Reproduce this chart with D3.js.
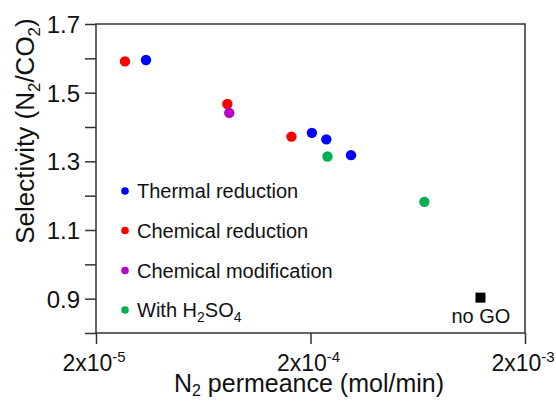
<!DOCTYPE html>
<html>
<head>
<meta charset="utf-8">
<script src="https://cdn.jsdelivr.net/npm/d3@7"></script>
<style>
  body { margin: 0; background: white; }
  text { font-family: "Liberation Sans", Arial, sans-serif; fill: #111; }
</style>
</head>
<body>
<div id="chart"></div>
<script>
let width = 556;
let height = 401;

let margin = {
	top: 24,
	right: 31,
	bottom: 68,
	left: 96
};

// data
let thermalX = [3.42e-5, 2.03e-4, 2.37e-4, 3.09e-4];
let thermalY = [1.595, 1.383, 1.364, 1.318];
let chemRedX = [2.73e-5, 8.19e-5, 1.63e-4];
let chemRedY = [1.591, 1.467, 1.372];
let chemModX = [8.36e-5];
let chemModY = [1.441];
let sulfX = [2.40e-4, 6.79e-4];
let sulfY = [1.314, 1.182];
let noGoX = [1.24e-3];
let noGoY = [0.903];

let seriesNames = ["Thermal reduction", "Chemical reduction", "Chemical modification", "With H2SO4"];
let seriesColors = ["#0000ff", "#ff0000", "#b800c8", "#00b050"];

let xTicks = [2e-5, 2e-4, 2e-3];
let xTickExp = ["-5", "-4", "-3"];
let yTicks = [0.8, 0.9, 1.0, 1.1, 1.2, 1.3, 1.4, 1.5, 1.6, 1.7];
let yLabels = [0.9, 1.1, 1.3, 1.5, 1.7];

let series = [
	{x: thermalX, y: thermalY},
	{x: chemRedX, y: chemRedY},
	{x: chemModX, y: chemModY},
	{x: sulfX, y: sulfY}
];

let svg = d3.select("#chart")
			.append("svg")
			.attr("width", width)
			.attr("height", height);

svg.append("rect")
	.attr("width", width)
	.attr("height", height)
	.attr("fill", "white");

let xScale = d3.scaleLog()
				.domain([2e-5, 2e-3])
				.range([margin.left, width - margin.right]);

let yScale = d3.scaleLinear()
				.domain([0.8, 1.7])
				.range([height - margin.bottom, margin.top]);

let axisColor = "#333";

// frame
svg.append("rect")
	.attr("x", margin.left)
	.attr("y", margin.top)
	.attr("width", width - margin.right - margin.left)
	.attr("height", height - margin.bottom - margin.top)
	.attr("fill", "none")
	.attr("stroke", axisColor)
	.attr("stroke-width", 1.5);

// y ticks
let yAxis = d3.axisLeft(yScale)
				.tickValues(yTicks)
				.tickSize(11)
				.tickFormat(d => yLabels.some(v => Math.abs(v - d) < 1e-9) ? d3.format(".1f")(d) : "");

let gy = svg.append("g")
			.attr("transform", `translate(${margin.left},0)`)
			.call(yAxis);
gy.select(".domain").remove();
gy.selectAll("line").attr("stroke", axisColor).attr("stroke-width", 1.5);
gy.selectAll("text")
	.attr("x", -16)
	.attr("dy", "0.36em")
	.style("font-size", "24px")
	.style("font-family", "Liberation Sans, Arial, sans-serif")
	.attr("fill", "#111");

// x ticks
let xAxis = d3.axisBottom(xScale)
				.tickValues(xTicks)
				.tickSize(11)
				.tickFormat("");

let gx = svg.append("g")
			.attr("transform", `translate(0,${height - margin.bottom})`)
			.call(xAxis);
gx.select(".domain").remove();
gx.selectAll("line").attr("stroke", axisColor).attr("stroke-width", 1.5);

let xLab = svg.selectAll(".xlab")
			.data(xTicks)
			.enter()
			.append("text")
			.attr("class", "xlab")
			.attr("x", d => xScale(d) - 2)
			.attr("y", 371)
			.attr("text-anchor", "middle")
			.style("font-size", "23px");
xLab.append("tspan").text("2x10");
xLab.append("tspan")
	.attr("dy", -9)
	.style("font-size", "15px")
	.text((d, i) => xTickExp[i]);

// axis titles
let xTitle = svg.append("text")
			.attr("x", 309)
			.attr("y", 392)
			.attr("text-anchor", "middle")
			.style("font-size", "25px");
xTitle.append("tspan").text("N");
xTitle.append("tspan").attr("dy", 4).style("font-size", "16px").text("2");
xTitle.append("tspan").attr("dy", -4).text(" permeance (mol/min)");

let yTitle = svg.append("text")
			.attr("transform", "translate(34,131) rotate(-90)")
			.attr("text-anchor", "middle")
			.style("font-size", "26px");
yTitle.append("tspan").text("Selectivity (N");
yTitle.append("tspan").attr("dy", 6).style("font-size", "17px").text("2");
yTitle.append("tspan").attr("dy", -6).text("/CO");
yTitle.append("tspan").attr("dy", 6).style("font-size", "17px").text("2");
yTitle.append("tspan").attr("dy", -6).text(")");

// points
series.forEach((s, i) => {
	svg.selectAll(".pt" + i)
		.data(s.x)
		.enter()
		.append("circle")
		.attr("class", "pt" + i)
		.attr("cx", d => xScale(d))
		.attr("cy", (d, j) => yScale(s.y[j]))
		.attr("r", 5.2)
		.attr("fill", seriesColors[i]);
});

svg.selectAll(".nogo")
	.data(noGoX)
	.enter()
	.append("rect")
	.attr("class", "nogo")
	.attr("x", d => xScale(d) - 5)
	.attr("y", (d, j) => yScale(noGoY[j]) - 5)
	.attr("width", 10)
	.attr("height", 10)
	.attr("fill", "#000");

svg.append("text")
	.attr("x", xScale(noGoX[0]) + 0.5)
	.attr("y", 323)
	.attr("text-anchor", "middle")
	.style("font-size", "20px")
	.text("no GO");

// legend
let legendY = [191, 230.5, 270.5, 310];
let lg = svg.selectAll(".lg")
			.data(seriesNames)
			.enter()
			.append("g")
			.attr("class", "lg")
			.attr("transform", (d, i) => `translate(125,${legendY[i]})`);

lg.append("circle")
	.attr("r", 3.8)
	.attr("fill", (d, i) => seriesColors[i]);

lg.each(function(d, i) {
	let t = d3.select(this).append("text")
				.attr("x", 12)
				.attr("y", 7)
				.style("font-size", "20px");
	if (d === "With H2SO4") {
		t.append("tspan").text("With H");
		t.append("tspan").attr("dy", 5).style("font-size", "14px").text("2");
		t.append("tspan").attr("dy", -5).text("SO");
		t.append("tspan").attr("dy", 5).style("font-size", "14px").text("4");
	} else {
		t.text(d);
	}
});
</script>
</body>
</html>
